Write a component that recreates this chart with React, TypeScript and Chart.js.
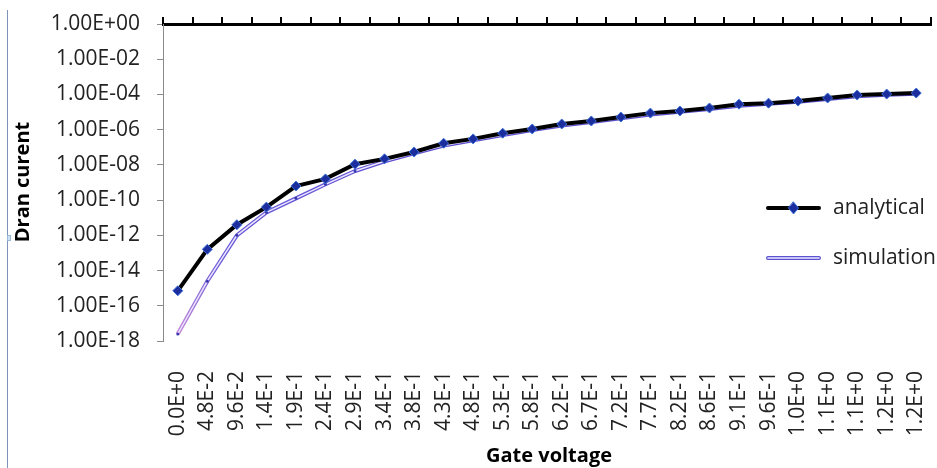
import React, { useEffect, useRef } from "react";
import { Chart, registerables } from "chart.js";

Chart.register(...registerables);

const gateVoltageLabels = [
  "0.0E+0", "4.8E-2", "9.6E-2", "1.4E-1", "1.9E-1", "2.4E-1", "2.9E-1", "3.4E-1", "3.8E-1",
  "4.3E-1", "4.8E-1", "5.3E-1", "5.8E-1", "6.2E-1", "6.7E-1", "7.2E-1", "7.7E-1", "8.2E-1",
  "8.6E-1", "9.1E-1", "9.6E-1", "1.0E+0", "1.1E+0", "1.1E+0", "1.2E+0", "1.2E+0",
];

const analyticalCurrent = [
  7.1e-16, 1.6e-13, 4.0e-12, 4.0e-11, 6.3e-10, 1.6e-9, 1.1e-8, 2.2e-8, 5.4e-8,
  1.7e-7, 3.0e-7, 6.3e-7, 1.1e-6, 2.1e-6, 3.1e-6, 5.2e-6, 8.7e-6, 1.15e-5,
  1.7e-5, 2.8e-5, 3.2e-5, 4.2e-5, 6.3e-5, 9.3e-5, 1.05e-4, 1.2e-4,
];

const simulationCurrent = [
  2.5e-18, 2.5e-15, 1.0e-12, 2.0e-11, 1.26e-10, 7.9e-10, 4.5e-9, 1.6e-8, 4.5e-8,
  1.26e-7, 2.5e-7, 5.0e-7, 9.5e-7, 1.74e-6, 2.75e-6, 4.5e-6, 7.2e-6, 1.05e-5,
  1.5e-5, 2.3e-5, 2.95e-5, 3.8e-5, 5.5e-5, 7.9e-5, 9.5e-5, 1.1e-4,
];

const yTickValues = [1, 1e-2, 1e-4, 1e-6, 1e-8, 1e-10, 1e-12, 1e-14, 1e-16, 1e-18];

const seriesNames = ["analytical", "simulation"];
const xAxisTitle = "Gate voltage";
const yAxisTitle = "Dran curent";

const FONT = "'Open Sans', 'Noto Sans', sans-serif";

function formatSci(v: number): string {
  const e = Math.round(Math.log10(v));
  const sign = e < 0 ? "-" : "+";
  return `1.00E${sign}${String(Math.abs(e)).padStart(2, "0")}`;
}

function simGradient(ctx: any) {
  const chart = ctx.chart;
  const area = chart.chartArea;
  if (!area) return "#5a52d2";
  const g = chart.ctx.createLinearGradient(0, area.bottom, 0, area.top);
  g.addColorStop(0, "#c98ad6");
  g.addColorStop(0.25, "#6a5ad8");
  g.addColorStop(1, "#5248cc");
  return g;
}

const zeroPadding = (scale: any) => {
  scale.paddingLeft = 0;
  scale.paddingRight = 0;
  scale.paddingTop = 0;
  scale.paddingBottom = 0;
};

const overlayPlugin = {
  id: "overlay",
  afterDraw(chart: any) {
    const ctx = chart.ctx;
    ctx.save();
    // left page border artefact
    ctx.strokeStyle = "#7f93ba";
    ctx.lineWidth = 1;
    ctx.beginPath();
    ctx.moveTo(7.5, 10);
    ctx.lineTo(7.5, 468);
    ctx.stroke();
    ctx.fillStyle = "#cfe2f3";
    ctx.strokeStyle = "#9ab8d8";
    ctx.fillRect(7, 235, 4, 6);
    ctx.strokeRect(7.5, 235.5, 3, 5);

    // axis titles
    ctx.fillStyle = "#000";
    ctx.font = `bold 20px ${FONT}`;
    ctx.textAlign = "center";
    ctx.textBaseline = "alphabetic";
    ctx.fillText(xAxisTitle, 549, 462);
    ctx.save();
    ctx.translate(29, 182);
    ctx.rotate(-Math.PI / 2);
    ctx.fillText(yAxisTitle, 0, 0);
    ctx.restore();

    // legend
    const x0 = 768, x1 = 819, y1 = 208, y2 = 258;
    ctx.lineCap = "round";
    ctx.strokeStyle = "#000";
    ctx.lineWidth = 4;
    ctx.beginPath();
    ctx.moveTo(x0, y1);
    ctx.lineTo(x1, y1);
    ctx.stroke();
    ctx.fillStyle = "#1c2e9e";
    ctx.strokeStyle = "#3d6fd8";
    ctx.lineWidth = 1;
    ctx.beginPath();
    const cx = (x0 + x1) / 2;
    ctx.moveTo(cx, y1 - 6);
    ctx.lineTo(cx + 5, y1);
    ctx.lineTo(cx, y1 + 6);
    ctx.lineTo(cx - 5, y1);
    ctx.closePath();
    ctx.fill();
    ctx.stroke();

    ctx.strokeStyle = "#5a52d2";
    ctx.lineWidth = 4;
    ctx.beginPath();
    ctx.moveTo(x0, y2);
    ctx.lineTo(x1, y2);
    ctx.stroke();
    ctx.strokeStyle = "#ece6ff";
    ctx.lineWidth = 1.5;
    ctx.beginPath();
    ctx.moveTo(x0, y2);
    ctx.lineTo(x1, y2);
    ctx.stroke();

    ctx.fillStyle = "#222";
    ctx.font = `21px ${FONT}`;
    ctx.textAlign = "left";
    ctx.textBaseline = "middle";
    ctx.fillText(seriesNames[0], 833, y1);
    ctx.fillText(seriesNames[1], 833, y2);
    ctx.restore();
  },
};

export default function App() {
  const canvasRef = useRef<HTMLCanvasElement | null>(null);

  useEffect(() => {
    const canvas = canvasRef.current;
    if (!canvas) return;
    const chart = new Chart(canvas, {
      type: "line",
      data: {
        labels: gateVoltageLabels,
        datasets: [
          {
            label: seriesNames[0],
            data: analyticalCurrent,
            borderColor: "#000",
            borderWidth: 4,
            pointStyle: "rectRot",
            pointRadius: 5,
            pointBackgroundColor: "#1c2e9e",
            pointBorderColor: "#3d6fd8",
            pointBorderWidth: 1,
            tension: 0,
            order: 0,
          },
          {
            label: seriesNames[1] + "-inner",
            data: simulationCurrent,
            borderColor: "#ece6ff",
            borderWidth: 1.5,
            pointRadius: 1.5,
            pointBackgroundColor: "#3a3ab0",
            pointBorderWidth: 0,
            tension: 0,
            order: 1,
          },
          {
            label: seriesNames[1],
            data: simulationCurrent,
            borderColor: simGradient as any,
            borderWidth: 4,
            pointRadius: 0,
            tension: 0,
            order: 2,
          },
        ],
      },
      options: {
        responsive: false,
        animation: false,
        maintainAspectRatio: false,
        layout: { padding: { left: 0, right: 2, top: 0, bottom: 0 } },
        plugins: {
          legend: { display: false },
          tooltip: { enabled: false },
        },
        scales: {
          x: {
            type: "category",
            position: "bottom",
            offset: true,
            grid: { display: false },
            border: { display: false },
            ticks: {
              autoSkip: false,
              minRotation: 90,
              maxRotation: 90,
              padding: 22,
              color: "#222",
              font: { family: FONT, size: 21 },
            },
            afterFit: (scale: any) => {
              scale.height = 127;
              zeroPadding(scale);
            },
          },
          x2: {
            type: "category",
            position: "top",
            labels: gateVoltageLabels,
            offset: true,
            grid: {
              display: true,
              offset: true,
              drawOnChartArea: false,
              drawTicks: true,
              tickLength: 7,
              color: "#000",
              lineWidth: 2,
            },
            border: { display: true, color: "#000", width: 3 },
            ticks: { display: false },
            afterFit: (scale: any) => {
              scale.height = 24;
              zeroPadding(scale);
            },
          },
          y: {
            type: "logarithmic",
            min: 1e-18,
            max: 1,
            position: "left",
            grid: {
              display: true,
              drawOnChartArea: false,
              drawTicks: true,
              tickLength: 6,
              color: "#8a8a8a",
            },
            border: { display: true, color: "#8a8a8a", width: 1 },
            afterBuildTicks: (scale: any) => {
              scale.ticks = yTickValues.map((v) => ({ value: v }));
            },
            ticks: {
              padding: 17,
              color: "#222",
              font: { family: FONT, size: 21 },
              callback: (v: any) => formatSci(Number(v)),
            },
            afterFit: (scale: any) => {
              scale.width = 163;
              zeroPadding(scale);
            },
          },
        },
      },
      plugins: [overlayPlugin],
    });
    return () => chart.destroy();
  }, []);

  return (
    <div style={{ position: "fixed", left: 0, top: 0, width: 937, height: 468, background: "#fff" }}>
      <canvas ref={canvasRef} width={937} height={468} style={{ display: "block" }} />
    </div>
  );
}
